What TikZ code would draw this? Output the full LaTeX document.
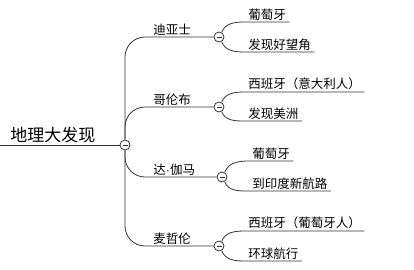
\documentclass[tikz,border=0pt]{standalone}
\usepackage{fontspec}
\setmainfont{Noto Sans CJK SC}
\newfontfamily\latinfont{Liberation Sans}
\usepackage{xcolor}

\begin{document}
\begin{tikzpicture}[x=1pt,y=1pt,line width=0.8pt,draw=black!80,
  minus/.style={circle,draw,fill=white,inner sep=0pt,minimum size=10pt,
    path picture={\draw[line width=0.7pt] ([xshift=-2.5pt]path picture bounding box.center) -- ([xshift=2.5pt]path picture bounding box.center);}},
  topic/.style={anchor=south west,inner xsep=3pt,inner ysep=1.5pt,font=\fontsize{12.5}{14}\selectfont},
  leaf/.style={anchor=south west,inner xsep=3pt,inner ysep=1.5pt,font=\fontsize{12.5}{14}\selectfont}]
\useasboundingbox (0,0) rectangle (414,269);
% root
\coordinate (rl) at (0,124);
\node[minus] (c0) at (125,124) {};
\node[anchor=south west,inner xsep=3pt,inner ysep=2pt,font=\fontsize{17}{20}\selectfont] (root) at (7,124) {地理大发现};
\draw (rl) -- (c0);
% topics
\node[minus] (b1) at (219,232) {};
\node[minus] (b2) at (219,162) {};
\node[minus] (b3) at (222,92) {};
\node[minus] (b4) at (219,23) {};
\node[topic] (t1) at (150,232) {迪亚士};
\node[topic] (t2) at (150,162) {哥伦布};
\node[topic] (t3) at (150,92) {达{\latinfont ·}伽马};
\node[topic] (t4) at (150,23) {麦哲伦};
\draw[rounded corners=20pt] (c0) |- (b1);
\draw[rounded corners=20pt] (c0) |- (b2);
\draw[rounded corners=20pt] (c0) |- (b3);
\draw[rounded corners=20pt] (c0) |- (b4);
% leaves
\node[leaf] (l11) at (245,247) {葡萄牙};
\node[leaf] (l12) at (245,217) {发现好望角};
\node[leaf] (l21) at (245,177) {西班牙（意大利人）};
\node[leaf] (l22) at (245,148) {发现美洲};
\node[leaf] (l31) at (249,108) {葡萄牙};
\node[leaf] (l32) at (249,78) {到印度新航路};
\node[leaf] (l41) at (245,38) {西班牙（葡萄牙人）};
\node[leaf] (l42) at (245,8) {环球航行};
\draw (b1.60) to[out=70,in=180] (l11.south west) -- (l11.south east);
\draw (b1.-60) to[out=-70,in=180] (l12.south west) -- (l12.south east);
\draw (b2.60) to[out=70,in=180] (l21.south west) -- (l21.south east);
\draw (b2.-60) to[out=-70,in=180] (l22.south west) -- (l22.south east);
\draw (b3.60) to[out=70,in=180] (l31.south west) -- (l31.south east);
\draw (b3.-60) to[out=-70,in=180] (l32.south west) -- (l32.south east);
\draw (b4.60) to[out=70,in=180] (l41.south west) -- (l41.south east);
\draw (b4.-60) to[out=-70,in=180] (l42.south west) -- (l42.south east);
\end{tikzpicture}
\end{document}
